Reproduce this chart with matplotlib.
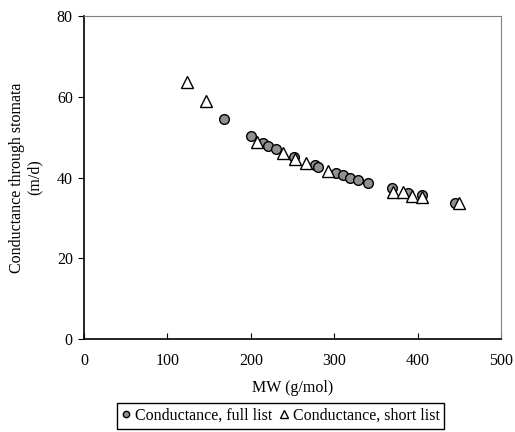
import matplotlib
matplotlib.use("Agg")
from matplotlib import pyplot as plt

plt.rcParams["font.family"] = ["Liberation Serif", "DejaVu Serif"]
plt.rcParams["font.size"] = 11.5

# full list of compounds
full_mw = [168, 200, 215, 221, 230, 252, 277, 280, 302, 310, 319, 329, 341,
           369, 389, 405, 445]
full_cond = [54.6, 50.2, 48.6, 47.8, 47.0, 45.0, 43.1, 42.5, 41.2, 40.6, 40.0,
             39.4, 38.7, 37.3, 36.2, 35.7, 33.8]

# short list of compounds
short_mw = [123, 146, 207, 239, 253, 266, 293, 371, 382, 393, 405, 449]
short_cond = [63.7, 59.0, 48.9, 46.0, 44.6, 43.6, 41.7, 36.5, 36.3, 35.4,
              35.2, 33.6]

fig = plt.figure(figsize=(5.15, 4.32), dpi=100)
ax = fig.add_axes([0.163, 0.215, 0.81, 0.748])

ax.plot(full_mw, full_cond, linestyle="none", marker="o", markersize=7,
        markerfacecolor="#909090", markeredgecolor="black", markeredgewidth=1,
        label="Conductance, full list")
ax.plot(short_mw, short_cond, linestyle="none", marker="^", markersize=9,
        markerfacecolor="white", markeredgecolor="black", markeredgewidth=1,
        label="Conductance, short list")

ax.set_xlim(0, 500)
ax.set_ylim(0, 80)
ax.set_xticks(range(0, 501, 100))
ax.set_yticks(range(0, 81, 20))
ax.tick_params(axis="x", direction="in", length=4, pad=10)
ax.tick_params(axis="y", direction="out", length=4, pad=4)

for side in ["top", "right"]:
    ax.spines[side].set_color("#808080")
for side in ["left", "bottom"]:
    ax.spines[side].set_linewidth(1.2)

ax.set_xlabel("MW (g/mol)", labelpad=8)
ax.set_ylabel("Conductance through stomata\n(m/d)", labelpad=10)

leg = fig.legend(loc="center", bbox_to_anchor=(0.545, 0.037), ncol=2,
                 fancybox=False, edgecolor="black", framealpha=1,
                 handlelength=0.5, handletextpad=0.3, columnspacing=0.5,
                 borderpad=0.3, borderaxespad=0, markerscale=0.65)
leg.get_frame().set_linewidth(1)

fig.savefig("out.png", dpi=100)
